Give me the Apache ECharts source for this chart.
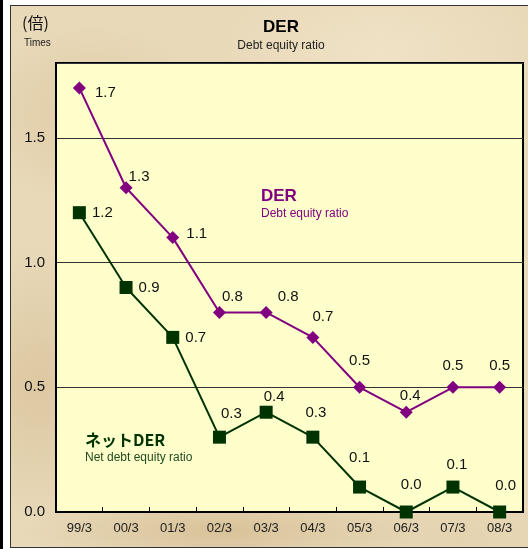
<!DOCTYPE html>
<html>
<head>
<meta charset="utf-8">
<script src="https://cdn.jsdelivr.net/npm/echarts@6/dist/echarts.min.js"></script>
<style>
  html, body { margin: 0; padding: 0; background: #fff; }
  #strip { position: absolute; left: 0; top: 0; width: 3px; height: 549px; background: #000; }
  #paper {
    position: absolute; left: 10px; top: 5px; width: 530px; height: 543px;
    border: 1px solid #333; box-sizing: border-box;
    background:
      radial-gradient(ellipse 120px 90px at 15% 20%, rgba(214,186,140,0.45), transparent),
      radial-gradient(ellipse 160px 80px at 70% 8%, rgba(245,232,205,0.6), transparent),
      radial-gradient(ellipse 90px 140px at 5% 70%, rgba(205,178,130,0.45), transparent),
      radial-gradient(ellipse 200px 40px at 40% 97%, rgba(200,170,120,0.5), transparent),
      radial-gradient(ellipse 140px 50px at 85% 98%, rgba(225,205,165,0.5), transparent),
      #e8d9b9;
  }
  #main { position: absolute; left: 0; top: 0; width: 528px; height: 549px; }
</style>
</head>
<body>
<div id="strip"></div>
<div id="paper"></div>
<div id="main"></div>
<script>
// 年度（3月期）
var years = ['99/3', '00/3', '01/3', '02/3', '03/3', '04/3', '05/3', '06/3', '07/3', '08/3'];
// DER
var der = [1.7, 1.3, 1.1, 0.8, 0.8, 0.7, 0.5, 0.4, 0.5, 0.5];
// ネットDER
var netDer = [1.2, 0.9, 0.7, 0.3, 0.4, 0.3, 0.1, 0.0, 0.1, 0.0];

// ラベルのずらし量（点の中心から）
var derLabelShift = [[26, 5], [13, -11], [24, -4], [13, -16], [22, -16], [10, -21], [0, -26], [4, -16], [0, -21], [0, -21]];
var netLabelShift = [[23, 0], [23, 0], [23, 0], [12, -23], [8, -15], [3, -24], [0, -29], [5, -27], [4, -22], [6, -26]];

var PURPLE = '#800080';
var GREEN = '#003300';
var FONT = 'Liberation Sans, Arial, sans-serif';
var JP = 'Noto Sans CJK JP, sans-serif';

function withShift(values, shifts) {
    return values.map(function (v, i) {
        return { value: v, label: { offset: shifts[i] } };
    });
}

var myChart = echarts.init(document.getElementById('main'), null, { renderer: 'canvas' });

var option = {
    backgroundColor: 'transparent',
    animation: false,
    grid: {
        left: 56, right: 5, top: 63, bottom: 37,
        show: true,
        backgroundColor: '#ffffcc',
        borderColor: '#000',
        borderWidth: 2
    },
    xAxis: {
        type: 'category',
        data: years,
        boundaryGap: true,
        axisLine: { lineStyle: { color: '#000', width: 2 } },
        axisTick: { show: true, inside: true, length: 5, lineStyle: { color: '#000', width: 1 } },
        axisLabel: { color: '#222', fontSize: 13, fontFamily: FONT, margin: 10 },
        splitLine: { show: false }
    },
    yAxis: {
        type: 'value',
        min: 0,
        max: 1.8,
        interval: 0.5,
        axisLine: { show: true, lineStyle: { color: '#000', width: 2 } },
        axisTick: { show: false },
        axisLabel: {
            color: '#111', fontSize: 15, fontFamily: FONT, margin: 11,
            formatter: function (v) { return v > 1.75 ? '' : v.toFixed(1); }
        },
        splitLine: { show: true, lineStyle: { color: '#333', width: 1 } }
    },
    graphic: [
        { type: 'text', left: 22, top: 15, style: { text: '(倍)', font: '16px ' + JP, fill: '#111' } },
        { type: 'text', left: 24, top: 38, style: { text: 'Times', font: '10px ' + FONT, fill: '#222' } },
        { type: 'text', x: 281, y: 27, style: { text: 'DER', font: 'bold 17px ' + FONT, fill: '#000', align: 'center', verticalAlign: 'middle' } },
        { type: 'text', x: 281, y: 46, style: { text: 'Debt equity ratio', font: '12px ' + FONT, fill: '#222', align: 'center', verticalAlign: 'middle' } },
        { type: 'text', x: 261, y: 196, style: { text: 'DER', font: 'bold 17px ' + FONT, fill: PURPLE, verticalAlign: 'middle' } },
        { type: 'text', x: 261, y: 214, style: { text: 'Debt equity ratio', font: '12px ' + FONT, fill: PURPLE, verticalAlign: 'middle' } },
        { type: 'text', x: 85, y: 440, style: { text: 'ネットDER', font: 'bold 16px ' + JP, fill: GREEN, verticalAlign: 'middle' } },
        { type: 'text', x: 85, y: 458, style: { text: 'Net debt equity ratio', font: '12px ' + FONT, fill: '#1f4a1f', verticalAlign: 'middle' } }
    ],
    series: [{
        name: 'DER',
        type: 'line',
        data: withShift(der, derLabelShift),
        symbol: 'diamond',
        symbolSize: 13,
        lineStyle: { color: PURPLE, width: 2 },
        itemStyle: { color: PURPLE },
        label: {
            show: true, position: 'inside', align: 'center', verticalAlign: 'middle',
            color: '#111', fontSize: 15, fontFamily: FONT,
            formatter: function (p) { return p.value.toFixed(1); }
        },
        z: 3
    }, {
        name: 'ネットDER',
        type: 'line',
        data: withShift(netDer, netLabelShift),
        symbol: 'rect',
        symbolSize: 13,
        lineStyle: { color: GREEN, width: 2 },
        itemStyle: { color: GREEN },
        label: {
            show: true, position: 'inside', align: 'center', verticalAlign: 'middle',
            color: '#111', fontSize: 15, fontFamily: FONT,
            formatter: function (p) { return p.value.toFixed(1); }
        },
        z: 4
    }]
};
myChart.setOption(option, true);
</script>
</body>
</html>
